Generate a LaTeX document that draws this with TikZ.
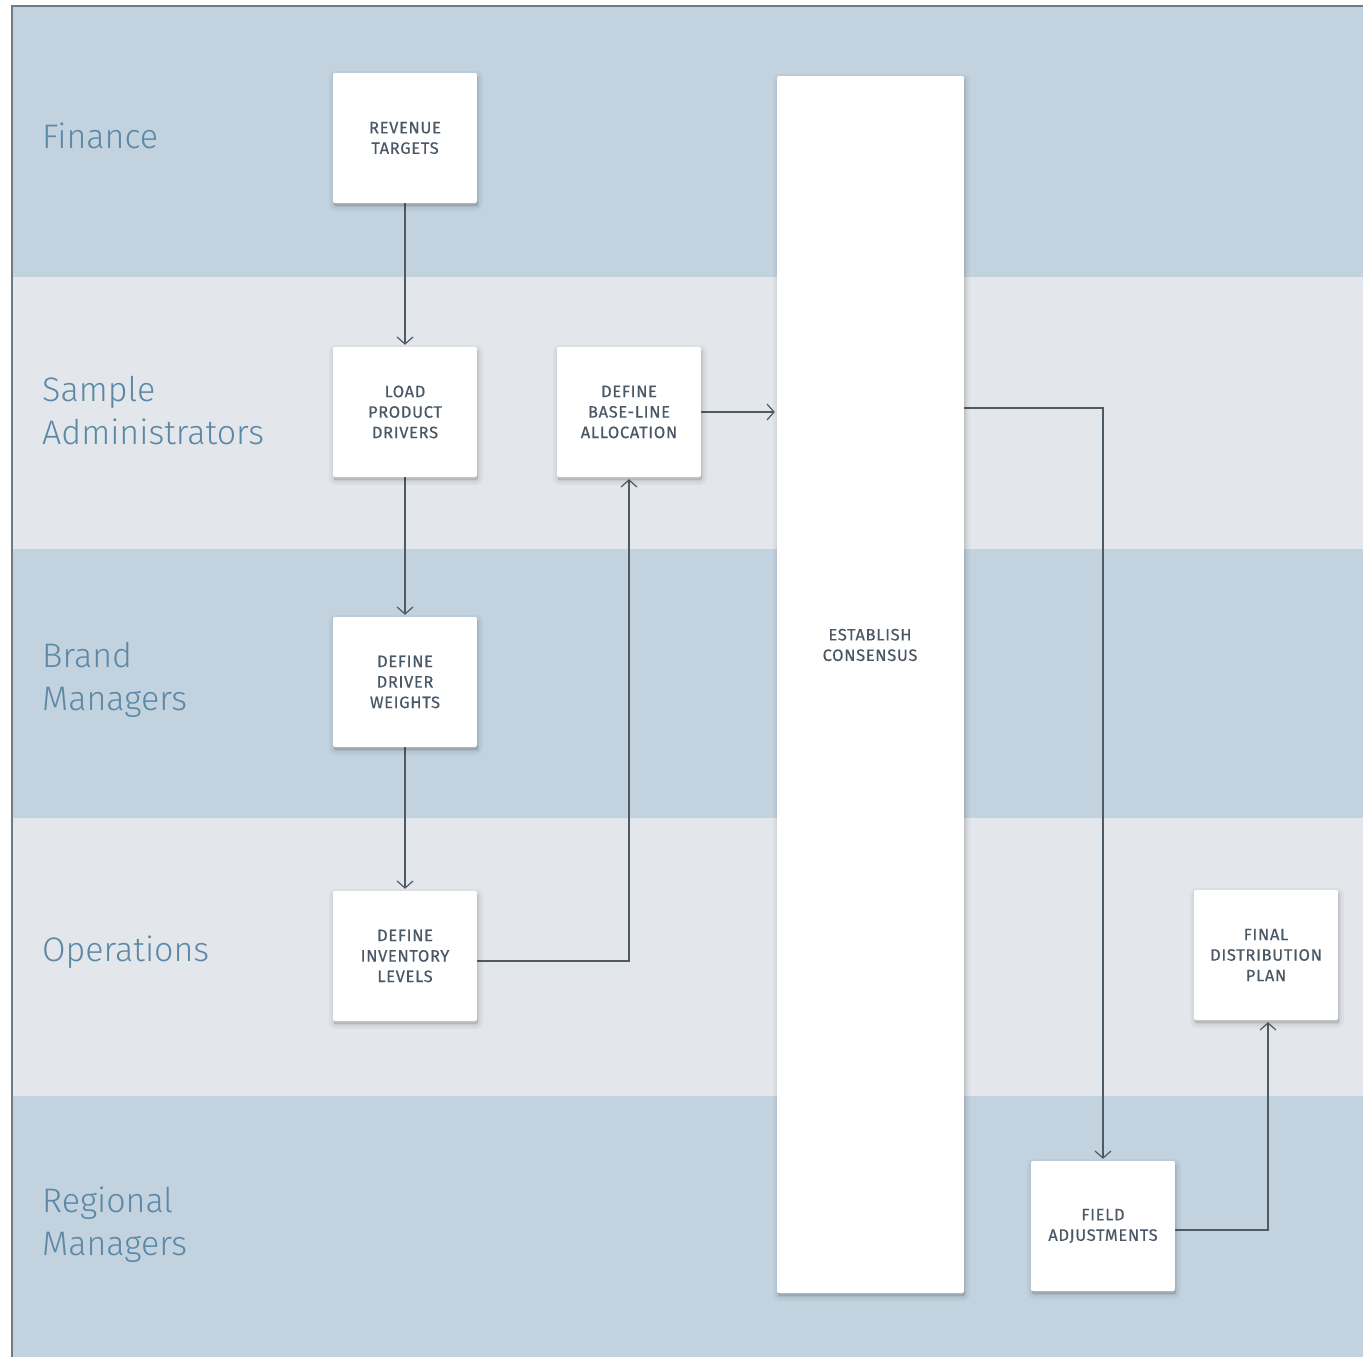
\documentclass[tikz,border=0pt]{standalone}
\usepackage{fontspec}
\setsansfont{Fira Sans}
\newfontfamily\cajafont[LetterSpace=4,FakeBold=0.4]{Fira Sans}
\newfontfamily\carrilfont{Fira Sans Light}
\usepackage{tikz}
\usetikzlibrary{arrows.meta}
\usetikzlibrary{shadows}
\definecolor{carriloscuro}{HTML}{C2D2DF}
\definecolor{carrilclaro}{HTML}{E3E7EB}
\definecolor{textocaja}{HTML}{4A5866}
\definecolor{textocarril}{HTML}{5B88A6}
\definecolor{linea}{HTML}{4E5B66}
\definecolor{marco}{HTML}{6E7A84}
\pgfdeclarelayer{carriles}
\pgfdeclarelayer{lineas_layer}
\pgfdeclarelayer{esquema}
\pgfsetlayers{carriles,lineas_layer,esquema,main}
\tikzstyle{sombra}=[general shadow={fill=black,draw=black,opacity=0.03,line width=10pt,shadow xshift=1pt,shadow yshift=-3pt},general shadow={fill=black,draw=black,opacity=0.04,line width=5pt,shadow xshift=1pt,shadow yshift=-3pt},general shadow={fill=black,draw=black,opacity=0.05,line width=1pt,shadow xshift=1pt,shadow yshift=-3pt}]
\tikzstyle{caja}=[sombra,fill=white,rounded corners=2pt,minimum width=144pt,minimum height=130pt,inner sep=2pt,font=\cajafont\fontsize{16.5}{20.5}\selectfont,text=textocaja,align=center]
\tikzstyle{columna}=[caja,minimum width=187pt,minimum height=1217pt]
\tikzstyle{texto}=[inner sep=0pt,font=\cajafont\fontsize{16.5}{20.5}\selectfont,text=textocaja,align=center]
\tikzstyle{carril}=[font=\carrilfont\fontsize{34}{43}\selectfont,text=textocarril,align=left,anchor=west,inner sep=0pt]
\tikzstyle{line}=[draw=linea,line width=1.2pt,shorten >=2pt,-{Straight Barb[length=7pt,width=16pt,line width=1.2pt]}]

\begin{document}
\begin{tikzpicture}[x=1pt,y=-1pt]
		\useasboundingbox (0,0) rectangle (1363,1357);
		\begin{pgfonlayer}{carriles}
			\fill [carriloscuro] (12,6) rectangle (1363,277);
			\fill [carrilclaro] (12,277) rectangle (1363,549);
			\fill [carriloscuro] (12,549) rectangle (1363,818);
			\fill [carrilclaro] (12,818) rectangle (1363,1096);
			\fill [carriloscuro] (12,1096) rectangle (1363,1357);
			\draw [marco,line width=1.5pt] (12,1357) -- (12,6) -- (1363,6);
			\node [style=carril] (finance) at (42,136) {Finance};
			\node [style=carril] (sample) at (42,411) {Sample\\Administrators};
			\node [style=carril] (brand) at (42,680) {Brand\\Managers};
			\node [style=carril] (operations) at (42,952) {Operations};
			\node [style=carril] (regional) at (42,1225) {Regional\\Managers};
		\end{pgfonlayer}
		\begin{pgfonlayer}{esquema}
			\node [style=caja] (revenue) at (405,138) {REVENUE\\TARGETS};
			\node [style=caja] (load_drivers) at (405,412) {LOAD\\PRODUCT\\DRIVERS};
			\node [style=caja] (baseline) at (629,412) {DEFINE\\BASE-LINE\\ALLOCATION};
			\node [style=caja] (weights) at (405,682) {DEFINE\\DRIVER\\WEIGHTS};
			\node [style=caja] (inventory) at (405,956) {DEFINE\\INVENTORY\\LEVELS};
			\node [style=columna] (consensus) at (870.5,684.5) {};
			\node [style=texto] (consensus_txt) at (870,645) {ESTABLISH\\CONSENSUS};
			\node [style=caja] (final) at (1266,955) {FINAL\\DISTRIBUTION\\PLAN};
			\node [style=caja] (field) at (1103,1226) {FIELD\\ADJUSTMENTS};
		\end{pgfonlayer}
		\begin{pgfonlayer}{lineas_layer}
			\path [style=line] (revenue) -- (load_drivers);
			\path [style=line] (load_drivers) -- (weights);
			\path [style=line] (weights) -- (inventory);
			\path [style=line] ([yshift=-5pt]inventory.east) -| (baseline.south);
			\path [style=line] (baseline.east) -- (baseline.east -| consensus.west);
			\path [style=line] ([yshift=4pt]consensus.east |- baseline.east) -| (field.north);
			\path [style=line] ([yshift=-4pt]field.east) -| ([xshift=2pt]final.south);
		\end{pgfonlayer}
\end{tikzpicture}
\end{document}
